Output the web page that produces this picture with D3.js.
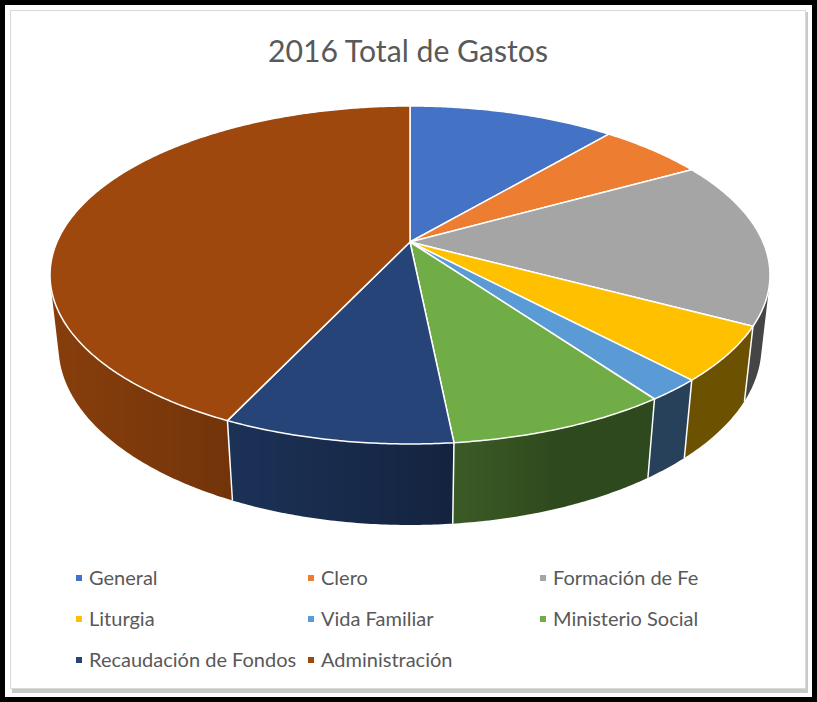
<!DOCTYPE html>
<html>
<head>
<meta charset="utf-8">
<script src="https://cdn.jsdelivr.net/npm/d3@7"></script>
<style>
  html, body { margin: 0; padding: 0; background: #fff; }
  svg { display: block; }
</style>
</head>
<body>
<svg id="chart" width="817" height="702"></svg>
<script>
// chart data (percent of total)
const categories = ["General", "Clero", "Formación de Fe", "Liturgia", "Vida Familiar",
                    "Ministerio Social", "Recaudación de Fondos", "Administración"];
const values = [11.2, 5.7, 15.9, 5.2, 2.1, 8.3, 8.6, 43.0];
const colors = ["#4472C4", "#ED7D31", "#A5A5A5", "#FFC000", "#5B9BD5",
                "#70AD47", "#264478", "#9E480E"];
const title = "2016 Total de Gastos";

const W = 817, H = 702;
const svg = d3.select("#chart");
const defs = svg.append("defs");

// frame: black outer border, chart area with soft shadow
svg.append("rect").attr("x", 2.5).attr("y", 2.5).attr("width", W - 5).attr("height", H - 5)
   .attr("fill", "#fff").attr("stroke", "#000").attr("stroke-width", 5);
svg.append("rect").attr("x", 12).attr("y", 12).attr("width", 796).attr("height", 681)
   .attr("fill", "#c8c8c8");
svg.append("rect").attr("x", 10.5).attr("y", 10.5).attr("width", 795).attr("height", 678)
   .attr("fill", "#fff").attr("stroke", "#d9d9d9").attr("stroke-width", 1);

svg.append("text")
   .attr("x", 408).attr("y", 62)
   .attr("text-anchor", "middle")
   .attr("font-family", "Lato, 'Open Sans', sans-serif")
   .attr("font-size", 30)
   .attr("fill", "#595959")
   .attr("textLength", 280).attr("lengthAdjust", "spacingAndGlyphs")
   .text(title);

// --- 3d pie: a disk tilted toward the viewer, with perspective ---
const cx = 410, cy = 242;
const tilt = Math.asin(0.4604);
const sinP = Math.sin(tilt), cosP = Math.cos(tilt);
const camD = 4.549, focal = 1606;
const depth = 0.229;

// angle a: clockwise from 12 o'clock (far side), h: 0 top face, -depth bottom
function proj(a, h) {
  const X = Math.sin(a), Z = Math.cos(a);
  const u = h * cosP + Z * sinP;
  const d = Z * cosP - h * sinP;
  const k = focal / (camD + d);
  return [cx + X * k, cy - u * k];
}

function shade(col, a) {
  // light comes from the front-left; sides facing right are darker
  const b = 0.42 + 0.43 * Math.max(0, Math.cos(a - 250 * Math.PI / 180));
  const c = d3.rgb(col);
  return d3.rgb(c.r * b, c.g * b, c.b * b);
}

function signedArea(pts) {
  let s = 0;
  for (let i = 0; i < pts.length; i++) {
    const p = pts[i], q = pts[(i + 1) % pts.length];
    s += p[0] * q[1] - q[0] * p[1];
  }
  return s / 2;
}

function facesUs(a) {
  const e = 0.002;
  return signedArea([proj(a - e, 0), proj(a + e, 0), proj(a + e, -depth), proj(a - e, -depth)]) < 0;
}

const pie = d3.pie().sort(null).value(d => d.v);
const arcs = pie(values.map((v, i) => ({ v: v, name: categories[i], color: colors[i] })));

const line = d3.line();
const step = 0.5 * Math.PI / 180;

const sides = svg.append("g").attr("class", "sides");
const edges = svg.append("g").attr("class", "edges");
const tops = svg.append("g").attr("class", "tops");

arcs.forEach((arc, idx) => {
  const n = Math.max(2, Math.ceil((arc.endAngle - arc.startAngle) / step));
  const angles = d3.range(n + 1).map(i => arc.startAngle + (arc.endAngle - arc.startAngle) * i / n);

  // visible part of the side wall, one polygon with a shading gradient
  const vis = angles.filter(facesUs);
  if (vis.length > 1) {
    const topPts = vis.map(a => proj(a, 0));
    const botPts = vis.map(a => proj(a, -depth)).reverse();
    const xs = topPts.map(p => p[0]);
    const x0 = d3.min(xs), x1 = d3.max(xs);
    const gid = "side" + idx;
    const grad = defs.append("linearGradient").attr("id", gid)
      .attr("gradientUnits", "userSpaceOnUse")
      .attr("x1", x0).attr("x2", x1).attr("y1", 0).attr("y2", 0);
    vis.map((a, i) => ({ off: (xs[i] - x0) / Math.max(1e-6, x1 - x0), c: shade(arc.data.color, a) }))
       .sort((p, q) => p.off - q.off)
       .forEach(s => grad.append("stop").attr("offset", s.off).attr("stop-color", s.c));
    sides.append("path")
         .attr("d", line(topPts.concat(botPts)) + "Z")
         .attr("fill", `url(#${gid})`);
  }

  // top face
  const rim = angles.map(a => proj(a, 0));
  tops.append("path")
      .attr("d", line([[cx, cy]].concat(rim)) + "Z")
      .attr("fill", arc.data.color)
      .attr("stroke", "#fff")
      .attr("stroke-width", 1.5)
      .attr("stroke-linejoin", "round");
});

// white vertical edges where slices meet on the visible wall
arcs.forEach(arc => {
  const a = arc.startAngle;
  if (!facesUs(a)) return;
  edges.append("path")
       .attr("d", line([proj(a, 0), proj(a, -depth)]))
       .attr("stroke", "#fff")
       .attr("stroke-width", 1.5);
});

// --- legend, three columns ---
const colX = [76, 308, 540];
const rowY = [578, 619, 660];
const legend = svg.append("g").attr("class", "legend")
  .selectAll("g")
  .data(arcs)
  .enter()
  .append("g")
  .attr("transform", (d, i) => `translate(${colX[i % 3]},${rowY[Math.floor(i / 3)]})`);

legend.append("rect")
      .attr("x", 0).attr("y", -3)
      .attr("width", 6).attr("height", 6)
      .attr("fill", d => d.data.color);

legend.append("text")
      .attr("x", 13).attr("y", 7)
      .attr("font-family", "Lato, 'Open Sans', sans-serif")
      .attr("font-size", 20)
      .attr("fill", "#595959")
      .text(d => d.data.name);
</script>
</body>
</html>
